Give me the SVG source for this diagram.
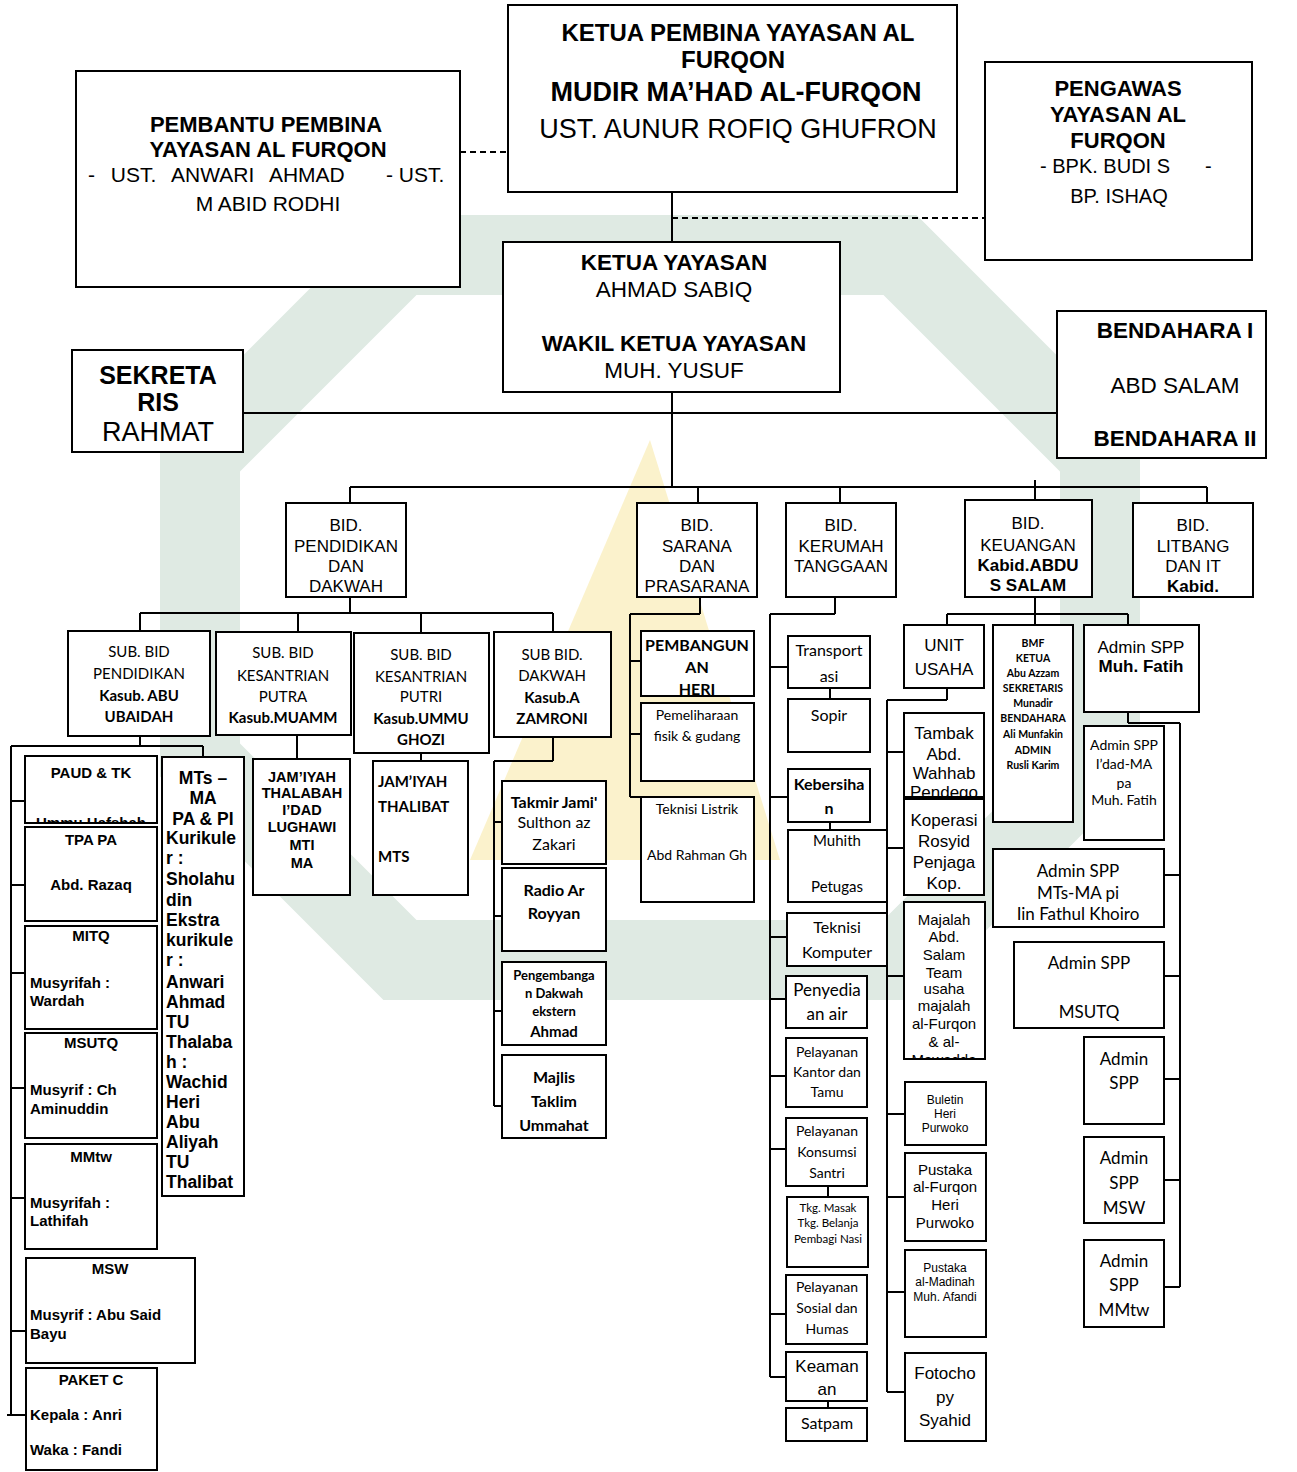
<svg xmlns="http://www.w3.org/2000/svg" width="1297" height="1472" viewBox="0 0 1297 1472">
<defs>
<style>
.bx{fill:#fff;stroke:#000;stroke-width:2}
.cn line{stroke:#000;stroke-width:2;fill:none}
.ds{stroke-dasharray:6 4}
text{font-family:"Liberation Sans",Arial,sans-serif;fill:#000;text-anchor:middle}
.k{font-family:Lato,"Liberation Sans",sans-serif}
.n{font-family:"Liberation Sans Narrow","Liberation Sans",sans-serif}
.b{font-weight:bold}
.l{text-anchor:start}
.wm{fill:none;stroke:#dfeae3;stroke-width:80;stroke-linejoin:miter}
</style>
<clipPath id="cpPaud"><rect x="26" y="757" width="130" height="65"/></clipPath>
<clipPath id="cpPutra"><rect x="217" y="633" width="133" height="101"/></clipPath>
<clipPath id="cpPemb"><rect x="642" y="632" width="111" height="63"/></clipPath>
<clipPath id="cpTambak"><rect x="905" y="714" width="78" height="82"/></clipPath>
<clipPath id="cpMajalah"><rect x="905" y="903" width="79" height="155"/></clipPath>
</defs>

<g id="watermark">
<polygon class="wm" points="400,255 900,255 1100,455 1100,760 900,960 400,960 200,760 200,455"/>
<polygon points="650,440 780,860 470,860" fill="#fbf2cc"/>
</g>

<g id="connectors" class="cn">
<line class="ds" x1="460" y1="152" x2="508" y2="152"/>
<line x1="672" y1="192" x2="672" y2="242"/>
<line class="ds" x1="672" y1="218" x2="985" y2="218"/>
<line x1="243" y1="413" x2="1057" y2="413"/>
<line x1="672" y1="392" x2="672" y2="487"/>
<line x1="350" y1="487" x2="1207" y2="487"/>
<line x1="350" y1="487" x2="350" y2="503"/>
<line x1="698" y1="487" x2="698" y2="503"/>
<line x1="840" y1="487" x2="840" y2="503"/>
<line x1="1035" y1="480" x2="1035" y2="500"/>
<line x1="1207" y1="487" x2="1207" y2="503"/>
<line x1="350" y1="597" x2="350" y2="613"/>
<line x1="140" y1="613" x2="553" y2="613"/>
<line x1="140" y1="613" x2="140" y2="631"/>
<line x1="298" y1="613" x2="298" y2="632"/>
<line x1="421" y1="613" x2="421" y2="633"/>
<line x1="553" y1="613" x2="553" y2="632"/>
<line x1="140" y1="736" x2="140" y2="746"/>
<line x1="11" y1="746" x2="203" y2="746"/>
<line x1="11" y1="746" x2="11" y2="1415"/>
<line x1="203" y1="746" x2="203" y2="757"/>
<line x1="11" y1="801" x2="25" y2="801"/>
<line x1="11" y1="885" x2="25" y2="885"/>
<line x1="11" y1="973" x2="25" y2="973"/>
<line x1="11" y1="1088" x2="25" y2="1088"/>
<line x1="11" y1="1198" x2="25" y2="1198"/>
<line x1="11" y1="1331" x2="26" y2="1331"/>
<line x1="7" y1="1415" x2="26" y2="1415"/>
<line x1="297" y1="735" x2="297" y2="759"/>
<line x1="421" y1="753" x2="421" y2="761"/>
<line x1="553" y1="737" x2="553" y2="761"/>
<line x1="494" y1="761" x2="553" y2="761"/>
<line x1="494" y1="761" x2="494" y2="1106"/>
<line x1="494" y1="822" x2="502" y2="822"/>
<line x1="494" y1="916" x2="502" y2="916"/>
<line x1="494" y1="1011" x2="502" y2="1011"/>
<line x1="494" y1="1106" x2="502" y2="1106"/>
<line x1="700" y1="597" x2="700" y2="614"/>
<line x1="630" y1="614" x2="700" y2="614"/>
<line x1="630" y1="614" x2="630" y2="797"/>
<line x1="630" y1="661" x2="641" y2="661"/>
<line x1="630" y1="734" x2="641" y2="734"/>
<line x1="630" y1="797" x2="641" y2="797"/>
<line x1="835" y1="597" x2="835" y2="614"/>
<line x1="770" y1="614" x2="835" y2="614"/>
<line x1="770" y1="614" x2="770" y2="1377"/>
<line x1="770" y1="667" x2="788" y2="667"/>
<line x1="770" y1="797" x2="788" y2="797"/>
<line x1="770" y1="937" x2="787" y2="937"/>
<line x1="770" y1="999" x2="786" y2="999"/>
<line x1="770" y1="1076" x2="786" y2="1076"/>
<line x1="770" y1="1149" x2="786" y2="1149"/>
<line x1="770" y1="1314" x2="786" y2="1314"/>
<line x1="770" y1="1377" x2="786" y2="1377"/>
<line x1="830" y1="688" x2="830" y2="699"/>
<line x1="830" y1="822" x2="830" y2="830"/>
<line x1="828" y1="1186" x2="828" y2="1197"/>
<line x1="828" y1="1401" x2="828" y2="1408"/>
<line x1="1035" y1="597" x2="1035" y2="614"/>
<line x1="947" y1="614" x2="1128" y2="614"/>
<line x1="947" y1="614" x2="947" y2="625"/>
<line x1="1035" y1="614" x2="1035" y2="625"/>
<line x1="1128" y1="614" x2="1128" y2="625"/>
<line x1="947" y1="688" x2="947" y2="700"/>
<line x1="887" y1="700" x2="947" y2="700"/>
<line x1="887" y1="700" x2="887" y2="1392"/>
<line x1="887" y1="752" x2="904" y2="752"/>
<line x1="887" y1="848" x2="904" y2="848"/>
<line x1="887" y1="976" x2="904" y2="976"/>
<line x1="887" y1="1114" x2="905" y2="1114"/>
<line x1="887" y1="1197" x2="905" y2="1197"/>
<line x1="887" y1="1292" x2="905" y2="1292"/>
<line x1="887" y1="1392" x2="905" y2="1392"/>
<line x1="1128" y1="712" x2="1128" y2="723"/>
<line x1="1128" y1="723" x2="1180" y2="723"/>
<line x1="1180" y1="723" x2="1180" y2="1287"/>
<line x1="1164" y1="875" x2="1180" y2="875"/>
<line x1="1164" y1="976" x2="1180" y2="976"/>
<line x1="1164" y1="1079" x2="1180" y2="1079"/>
<line x1="1164" y1="1180" x2="1180" y2="1180"/>
<line x1="1164" y1="1287" x2="1180" y2="1287"/>
</g>

<g id="ketua-pembina"><rect class="bx" x="508" y="5" width="449" height="187"/>
<text class="b" font-size="24"><tspan x="738" y="41">KETUA PEMBINA YAYASAN AL</tspan><tspan x="733" y="68">FURQON</tspan></text>
<text class="b" font-size="27" x="736" y="101">MUDIR MA’HAD AL-FURQON</text>
<text font-size="27" x="738" y="138">UST. AUNUR ROFIQ GHUFRON</text></g>

<g id="pembantu-pembina"><rect class="bx" x="76" y="71" width="384" height="216"/>
<text class="b" font-size="22"><tspan x="266" y="132">PEMBANTU PEMBINA</tspan><tspan x="268" y="157">YAYASAN AL FURQON</tspan></text>
<text class="l" font-size="21"><tspan x="88" y="182" word-spacing="10">- UST. ANWARI AHMAD</tspan><tspan x="386" y="182">- UST.</tspan></text>
<text font-size="21" x="268" y="211">M ABID RODHI</text></g>

<g id="pengawas"><rect class="bx" x="985" y="62" width="267" height="198"/>
<text class="b" font-size="22"><tspan x="1118" y="96">PENGAWAS</tspan><tspan x="1118" y="122">YAYASAN AL</tspan><tspan x="1118" y="148">FURQON</tspan></text>
<text class="l" font-size="20"><tspan x="1040" y="173">- BPK. BUDI S</tspan><tspan x="1205" y="173">-</tspan></text>
<text font-size="20" x="1119" y="203">BP. ISHAQ</text></g>

<g id="ketua-yayasan"><rect class="bx" x="503" y="242" width="337" height="150"/>
<text font-size="22.5"><tspan class="b" x="674" y="270">KETUA YAYASAN</tspan><tspan x="674" y="297">AHMAD SABIQ</tspan><tspan class="b" x="674" y="351">WAKIL KETUA YAYASAN</tspan><tspan x="674" y="378">MUH. YUSUF</tspan></text></g>

<g id="sekretaris"><rect class="bx" x="72" y="350" width="171" height="102"/>
<text font-size="25"><tspan class="b" x="158" y="384">SEKRETA</tspan><tspan class="b" x="158" y="411">RIS</tspan><tspan font-size="27" x="158" y="441">RAHMAT</tspan></text></g>

<g id="bendahara"><rect class="bx" x="1057" y="311" width="209" height="147"/>
<text font-size="22.5"><tspan class="b" x="1175" y="338">BENDAHARA I</tspan><tspan x="1175" y="393">ABD SALAM</tspan><tspan class="b" x="1175" y="446">BENDAHARA II</tspan></text></g>

<g id="bid-pendidikan"><rect class="bx" x="286" y="503" width="120" height="94"/>
<text class="n" font-size="17"><tspan x="346" y="531">BID.</tspan><tspan x="346" y="552">PENDIDIKAN</tspan><tspan x="346" y="572">DAN</tspan><tspan x="346" y="592">DAKWAH</tspan></text></g>
<g id="bid-sarana"><rect class="bx" x="637" y="503" width="120" height="94"/>
<text class="n" font-size="17"><tspan x="697" y="531">BID.</tspan><tspan x="697" y="552">SARANA</tspan><tspan x="697" y="572">DAN</tspan><tspan x="697" y="592">PRASARANA</tspan></text></g>
<g id="bid-kerumahtanggaan"><rect class="bx" x="786" y="503" width="110" height="94"/>
<text class="n" font-size="17"><tspan x="841" y="531">BID.</tspan><tspan x="841" y="552">KERUMAH</tspan><tspan x="841" y="572">TANGGAAN</tspan></text></g>
<g id="bid-keuangan"><rect class="bx" x="965" y="500" width="127" height="97"/>
<text class="n" font-size="17"><tspan x="1028" y="529">BID.</tspan><tspan x="1028" y="551">KEUANGAN</tspan><tspan class="b" x="1028" y="571">Kabid.ABDU</tspan><tspan class="b" x="1028" y="591">S SALAM</tspan></text></g>
<g id="bid-litbang"><rect class="bx" x="1133" y="503" width="120" height="94"/>
<text class="n" font-size="17"><tspan x="1193" y="531">BID.</tspan><tspan x="1193" y="552">LITBANG</tspan><tspan x="1193" y="572">DAN IT</tspan><tspan class="b" x="1193" y="592">Kabid.</tspan></text></g>

<g id="sub-pendidikan"><rect class="bx" x="68" y="631" width="142" height="105"/>
<text class="k" font-size="15"><tspan x="139" y="657">SUB. BID</tspan><tspan x="139" y="679">PENDIDIKAN</tspan><tspan class="b" x="139" y="701">Kasub. ABU</tspan><tspan class="b" x="139" y="722">UBAIDAH</tspan></text></g>
<g id="sub-kesantrian-putra"><rect class="bx" x="216" y="632" width="135" height="103"/>
<text class="k" font-size="15" clip-path="url(#cpPutra)"><tspan x="283" y="658">SUB. BID</tspan><tspan x="283" y="681">KESANTRIAN</tspan><tspan x="283" y="702">PUTRA</tspan><tspan class="b" x="283" y="723">Kasub.MUAMM</tspan><tspan class="b" x="283" y="745">AD</tspan></text></g>
<g id="sub-kesantrian-putri"><rect class="bx" x="354" y="633" width="135" height="120"/>
<text class="k" font-size="15"><tspan x="421" y="660">SUB. BID</tspan><tspan x="421" y="682">KESANTRIAN</tspan><tspan x="421" y="702">PUTRI</tspan><tspan class="b" x="421" y="724">Kasub.UMMU</tspan><tspan class="b" x="421" y="745">GHOZI</tspan></text></g>
<g id="sub-dakwah"><rect class="bx" x="494" y="632" width="117" height="105"/>
<text class="k" font-size="15"><tspan x="552" y="660">SUB BID.</tspan><tspan x="552" y="681">DAKWAH</tspan><tspan class="b" x="552" y="703">Kasub.A</tspan><tspan class="b" x="552" y="724">ZAMRONI</tspan></text></g>

<g id="paud-tk"><rect class="bx" x="25" y="756" width="132" height="67"/>
<text class="b" font-size="15" x="91" y="778">PAUD &amp; TK</text>
<text class="b" font-size="15" x="91" y="828" clip-path="url(#cpPaud)">Ummu Hafshah</text></g>
<g id="tpa-pa"><rect class="bx" x="25" y="827" width="132" height="94"/>
<text class="b" font-size="15"><tspan x="91" y="845">TPA PA</tspan><tspan x="91" y="890">Abd. Razaq</tspan></text></g>
<g id="mitq"><rect class="bx" x="25" y="926" width="132" height="103"/>
<text class="b" font-size="15"><tspan x="91" y="941">MITQ</tspan><tspan class="l" x="30" y="988">Musyrifah :</tspan><tspan class="l" x="30" y="1006">Wardah</tspan></text></g>
<g id="msutq"><rect class="bx" x="25" y="1033" width="132" height="105"/>
<text class="b" font-size="15"><tspan x="91" y="1048">MSUTQ</tspan><tspan class="l" x="30" y="1095">Musyrif : Ch</tspan><tspan class="l" x="30" y="1114">Aminuddin</tspan></text></g>
<g id="mmtw"><rect class="bx" x="25" y="1144" width="132" height="105"/>
<text class="b" font-size="15"><tspan x="91" y="1162">MMtw</tspan><tspan class="l" x="30" y="1208">Musyrifah :</tspan><tspan class="l" x="30" y="1226">Lathifah</tspan></text></g>
<g id="msw"><rect class="bx" x="26" y="1258" width="169" height="105"/>
<text class="b" font-size="15"><tspan x="110" y="1274">MSW</tspan><tspan class="l" x="30" y="1320">Musyrif : Abu Said</tspan><tspan class="l" x="30" y="1339">Bayu</tspan></text></g>
<g id="paket-c"><rect class="bx" x="26" y="1368" width="131" height="102"/>
<text class="b" font-size="15"><tspan x="91" y="1385">PAKET C</tspan><tspan class="l" x="30" y="1420">Kepala : Anri</tspan><tspan class="l" x="30" y="1455">Waka : Fandi</tspan></text></g>

<g id="mts-ma"><rect class="bx" x="162" y="757" width="82" height="439"/>
<text class="b" font-size="17.5"><tspan x="203" y="784">MTs –</tspan><tspan x="203" y="804">MA</tspan><tspan x="203" y="825">PA &amp; PI</tspan></text>
<text class="b l" font-size="17.5"><tspan x="166" y="844">Kurikule</tspan><tspan x="166" y="864">r :</tspan><tspan x="166" y="885">Sholahu</tspan><tspan x="166" y="906">din</tspan><tspan x="166" y="926">Ekstra</tspan><tspan x="166" y="946">kurikule</tspan><tspan x="166" y="966">r :</tspan><tspan x="166" y="988">Anwari</tspan><tspan x="166" y="1008">Ahmad</tspan><tspan x="166" y="1028">TU</tspan><tspan x="166" y="1048">Thalaba</tspan><tspan x="166" y="1068">h :</tspan><tspan x="166" y="1088">Wachid</tspan><tspan x="166" y="1108">Heri</tspan><tspan x="166" y="1128">Abu</tspan><tspan x="166" y="1148">Aliyah</tspan><tspan x="166" y="1168">TU</tspan><tspan x="166" y="1188">Thalibat</tspan></text></g>

<g id="jamiyah-thalabah"><rect class="bx" x="253" y="759" width="97" height="136"/>
<text class="b" font-size="14.5"><tspan x="302" y="782">JAM’IYAH</tspan><tspan x="302" y="798">THALABAH</tspan><tspan x="302" y="815">I’DAD</tspan><tspan x="302" y="832">LUGHAWI</tspan><tspan x="302" y="850">MTI</tspan><tspan x="302" y="868">MA</tspan></text></g>
<g id="jamiyah-thalibat"><rect class="bx" x="373" y="761" width="95" height="134"/>
<text class="k b l" font-size="15"><tspan x="378" y="787">JAM’IYAH</tspan><tspan x="378" y="812">THALIBAT</tspan><tspan x="378" y="862">MTS</tspan></text></g>

<g id="takmir"><rect class="bx" x="502" y="781" width="104" height="83"/>
<text class="k" font-size="16"><tspan class="b" x="554" y="808">Takmir Jami'</tspan><tspan x="554" y="828">Sulthon az</tspan><tspan x="554" y="850">Zakari</tspan></text></g>
<g id="radio"><rect class="bx" x="502" y="868" width="104" height="83"/>
<text class="k b" font-size="16"><tspan x="554" y="896">Radio Ar</tspan><tspan x="554" y="919">Royyan</tspan></text></g>
<g id="pengembangan-dakwah"><rect class="bx" x="502" y="962" width="104" height="83"/>
<text class="k b" font-size="13"><tspan x="554" y="980">Pengembanga</tspan><tspan x="554" y="998">n Dakwah</tspan><tspan x="554" y="1016">ekstern</tspan><tspan font-size="15" x="554" y="1037">Ahmad</tspan></text></g>
<g id="majlis-taklim"><rect class="bx" x="502" y="1055" width="104" height="83"/>
<text class="k b" font-size="16"><tspan x="554" y="1083">Majlis</tspan><tspan x="554" y="1107">Taklim</tspan><tspan x="554" y="1131">Ummahat</tspan></text></g>

<g id="pembangunan"><rect class="bx" x="641" y="631" width="113" height="65"/>
<text class="k b" font-size="16" clip-path="url(#cpPemb)"><tspan x="697" y="651">PEMBANGUN</tspan><tspan x="697" y="673">AN</tspan><tspan x="697" y="695">HERI</tspan></text></g>
<g id="pemeliharaan"><rect class="bx" x="641" y="703" width="113" height="78"/>
<text class="k" font-size="14"><tspan x="697" y="720">Pemeliharaan</tspan><tspan x="697" y="741">fisik &amp; gudang</tspan></text></g>
<g id="teknisi-listrik"><rect class="bx" x="641" y="797" width="113" height="105"/>
<text class="k" font-size="14"><tspan x="697" y="814">Teknisi Listrik</tspan><tspan x="697" y="860">Abd Rahman Gh</tspan></text></g>

<g id="transportasi"><rect class="bx" x="788" y="636" width="82" height="52"/>
<text class="k" font-size="16"><tspan x="829" y="656">Transport</tspan><tspan x="829" y="682">asi</tspan></text></g>
<g id="sopir"><rect class="bx" x="788" y="699" width="82" height="53"/>
<text class="k" font-size="16" x="829" y="721">Sopir</text></g>
<g id="kebersihan"><rect class="bx" x="788" y="769" width="82" height="53"/>
<text class="k b" font-size="16"><tspan x="829" y="790">Kebersiha</tspan><tspan x="829" y="814">n</tspan></text></g>
<g id="muhith"><rect class="bx" x="788" y="830" width="99" height="72"/>
<text class="k" font-size="15"><tspan x="837" y="846">Muhith</tspan><tspan x="837" y="892">Petugas</tspan></text></g>
<g id="teknisi-komputer"><rect class="bx" x="787" y="913" width="100" height="53"/>
<text class="k" font-size="16"><tspan x="837" y="933">Teknisi</tspan><tspan x="837" y="958">Komputer</tspan></text></g>
<g id="penyediaan-air"><rect class="bx" x="786" y="976" width="81" height="52"/>
<text class="k" font-size="17"><tspan x="827" y="996">Penyedia</tspan><tspan x="827" y="1020">an air</tspan></text></g>
<g id="pelayanan-kantor"><rect class="bx" x="786" y="1038" width="81" height="69"/>
<text class="k" font-size="14"><tspan x="827" y="1057">Pelayanan</tspan><tspan x="827" y="1077">Kantor dan</tspan><tspan x="827" y="1097">Tamu</tspan></text></g>
<g id="pelayanan-konsumsi"><rect class="bx" x="786" y="1118" width="81" height="68"/>
<text class="k" font-size="14"><tspan x="827" y="1136">Pelayanan</tspan><tspan x="827" y="1157">Konsumsi</tspan><tspan x="827" y="1178">Santri</tspan></text></g>
<g id="tkg-masak"><rect class="bx" x="787" y="1197" width="81" height="70"/>
<text class="k" font-size="11.5"><tspan x="828" y="1212">Tkg. Masak</tspan><tspan x="828" y="1227">Tkg. Belanja</tspan><tspan x="828" y="1243">Pembagi Nasi</tspan></text></g>
<g id="pelayanan-sosial"><rect class="bx" x="786" y="1275" width="81" height="69"/>
<text class="k" font-size="14"><tspan x="827" y="1292">Pelayanan</tspan><tspan x="827" y="1313">Sosial dan</tspan><tspan x="827" y="1334">Humas</tspan></text></g>
<g id="keamanan"><rect class="bx" x="786" y="1352" width="81" height="49"/>
<text font-size="17"><tspan x="827" y="1372">Keaman</tspan><tspan x="827" y="1395">an</tspan></text></g>
<g id="satpam"><rect class="bx" x="786" y="1408" width="81" height="33"/>
<text class="k" font-size="16" x="827" y="1429">Satpam</text></g>

<g id="unit-usaha"><rect class="bx" x="904" y="625" width="80" height="63"/>
<text font-size="17"><tspan x="944" y="651">UNIT</tspan><tspan x="944" y="675">USAHA</tspan></text></g>
<g id="tambak"><rect class="bx" x="904" y="713" width="80" height="84"/>
<text font-size="17" clip-path="url(#cpTambak)"><tspan x="944" y="739">Tambak</tspan><tspan x="944" y="760">Abd.</tspan><tspan x="944" y="779">Wahhab</tspan><tspan x="944" y="798">Pendego</tspan></text></g>
<g id="koperasi"><rect class="bx" x="904" y="799" width="80" height="96"/>
<text font-size="17"><tspan x="944" y="826">Koperasi</tspan><tspan x="944" y="847">Rosyid</tspan><tspan x="944" y="868">Penjaga</tspan><tspan x="944" y="889">Kop.</tspan></text></g>
<g id="majalah"><rect class="bx" x="904" y="902" width="81" height="157"/>
<text font-size="15" clip-path="url(#cpMajalah)"><tspan x="944" y="925">Majalah</tspan><tspan x="944" y="942">Abd.</tspan><tspan x="944" y="960">Salam</tspan><tspan x="944" y="978">Team</tspan><tspan x="944" y="994">usaha</tspan><tspan x="944" y="1011">majalah</tspan><tspan x="944" y="1029">al-Furqon</tspan><tspan x="944" y="1047">&amp; al-</tspan><tspan x="944" y="1065">Mawadda</tspan></text></g>
<g id="buletin"><rect class="bx" x="905" y="1082" width="81" height="63"/>
<text font-size="12"><tspan x="945" y="1104">Buletin</tspan><tspan x="945" y="1118">Heri</tspan><tspan x="945" y="1132">Purwoko</tspan></text></g>
<g id="pustaka-alfurqon"><rect class="bx" x="905" y="1153" width="81" height="88"/>
<text font-size="15"><tspan x="945" y="1175">Pustaka</tspan><tspan x="945" y="1192">al-Furqon</tspan><tspan x="945" y="1210">Heri</tspan><tspan x="945" y="1228">Purwoko</tspan></text></g>
<g id="pustaka-almadinah"><rect class="bx" x="905" y="1250" width="81" height="87"/>
<text font-size="12"><tspan x="945" y="1272">Pustaka</tspan><tspan x="945" y="1286">al-Madinah</tspan><tspan x="945" y="1301">Muh. Afandi</tspan></text></g>
<g id="fotocopy"><rect class="bx" x="905" y="1353" width="81" height="88"/>
<text font-size="17"><tspan x="945" y="1379">Fotocho</tspan><tspan x="945" y="1403">py</tspan><tspan x="945" y="1426">Syahid</tspan></text></g>

<g id="bmf"><rect class="bx" x="993" y="625" width="80" height="197"/>
<text class="k b" font-size="10.5"><tspan x="1033" y="647">BMF</tspan><tspan x="1033" y="662">KETUA</tspan><tspan x="1033" y="677">Abu Azzam</tspan><tspan x="1033" y="692">SEKRETARIS</tspan><tspan x="1033" y="707">Munadir</tspan><tspan x="1033" y="722">BENDAHARA</tspan><tspan x="1033" y="738">Ali Munfakin</tspan><tspan x="1033" y="754">ADMIN</tspan><tspan x="1033" y="769">Rusli Karim</tspan></text></g>

<g id="admin-spp-fatih"><rect class="bx" x="1084" y="625" width="115" height="87"/>
<text font-size="17"><tspan x="1141" y="653">Admin SPP</tspan><tspan class="b" x="1141" y="672">Muh. Fatih</tspan></text></g>
<g id="admin-spp-idad"><rect class="bx" x="1084" y="726" width="80" height="114"/>
<text class="k" font-size="14"><tspan x="1124" y="750">Admin SPP</tspan><tspan x="1124" y="769">I’dad-MA</tspan><tspan x="1124" y="788">pa</tspan><tspan x="1124" y="805">Muh. Fatih</tspan></text></g>
<g id="admin-spp-mtsma-pi"><rect class="bx" x="993" y="849" width="171" height="78"/>
<text class="k" font-size="17"><tspan x="1078" y="877">Admin SPP</tspan><tspan x="1078" y="899">MTs-MA pi</tspan><tspan x="1078" y="920">Iin Fathul Khoiro</tspan></text></g>
<g id="admin-spp-msutq"><rect class="bx" x="1014" y="942" width="150" height="86"/>
<text class="k" font-size="17"><tspan x="1089" y="969">Admin SPP</tspan><tspan x="1089" y="1018">MSUTQ</tspan></text></g>
<g id="admin-spp"><rect class="bx" x="1084" y="1037" width="80" height="87"/>
<text class="k" font-size="17"><tspan x="1124" y="1065">Admin</tspan><tspan x="1124" y="1089">SPP</tspan></text></g>
<g id="admin-spp-msw"><rect class="bx" x="1084" y="1137" width="80" height="86"/>
<text class="k" font-size="17"><tspan x="1124" y="1164">Admin</tspan><tspan x="1124" y="1189">SPP</tspan><tspan x="1124" y="1214">MSW</tspan></text></g>
<g id="admin-spp-mmtw"><rect class="bx" x="1084" y="1240" width="80" height="87"/>
<text class="k" font-size="17"><tspan x="1124" y="1267">Admin</tspan><tspan x="1124" y="1291">SPP</tspan><tspan x="1124" y="1316">MMtw</tspan></text></g>
</svg>
